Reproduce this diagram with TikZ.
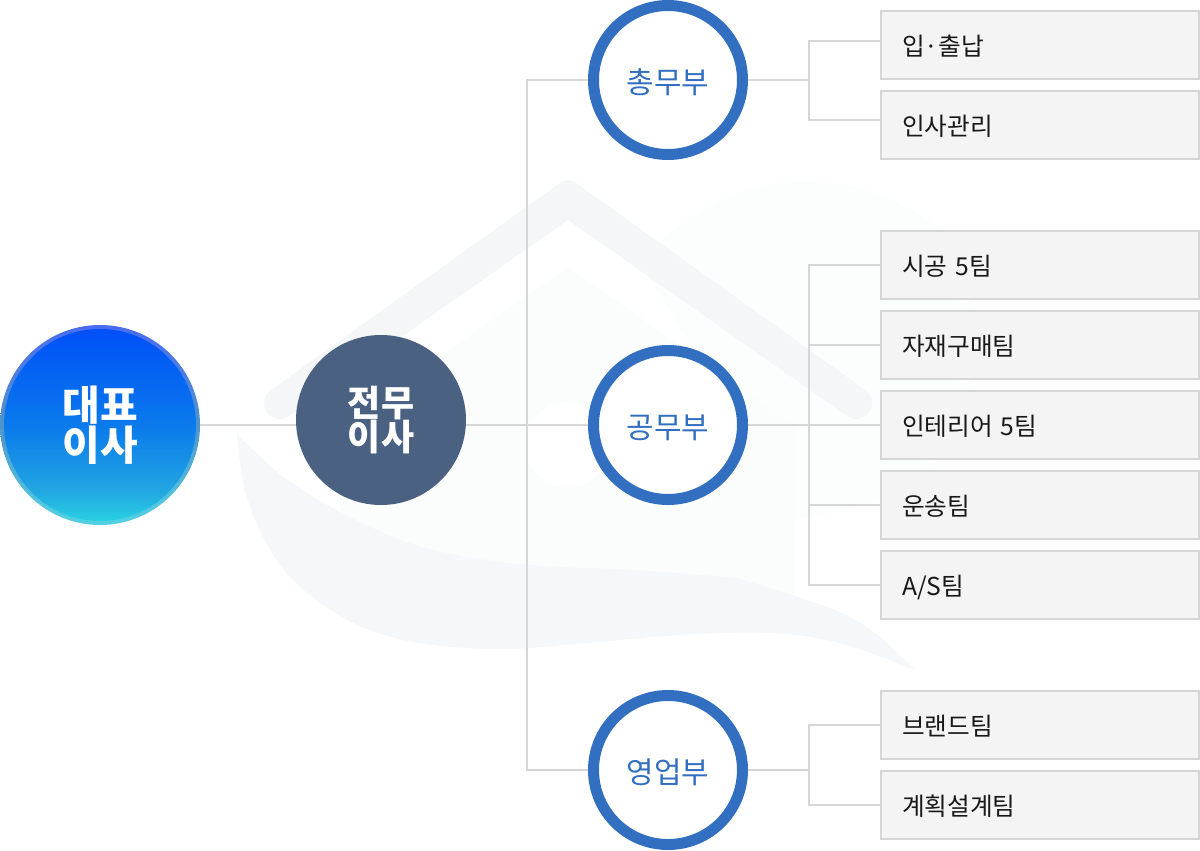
\documentclass[tikz,border=0pt]{standalone}
\usepackage{fontspec}
\setmainfont{Noto Sans CJK KR}
\usetikzlibrary{calc}
\definecolor{linec}{HTML}{D6D6D6}
\definecolor{boxf}{HTML}{F4F4F4}
\definecolor{deptc}{HTML}{326FC0}
\definecolor{execc}{HTML}{4A6182}
\definecolor{wmA}{HTML}{F5F6F8}
\definecolor{wmB}{HTML}{F5F8FA}
\definecolor{wmC}{HTML}{FBFCFC}
\definecolor{wmD}{HTML}{FCFDFD}
\definecolor{ci1}{HTML}{0050F8}
\definecolor{ci2}{HTML}{0A7AEC}
\definecolor{ci3}{HTML}{22A6E2}
\definecolor{ci4}{HTML}{28D0E2}
\definecolor{co1}{HTML}{4A6CF0}
\definecolor{co2}{HTML}{4F94CC}
\definecolor{co3}{HTML}{52D2E4}
\pgfdeclareverticalshading{ceoin}{100bp}{color(0bp)=(ci4);color(25bp)=(ci4);color(33bp)=(ci3);color(50bp)=(ci2);color(75bp)=(ci1);color(100bp)=(ci1)}
\pgfdeclareverticalshading{ceoout}{100bp}{color(0bp)=(co3);color(25bp)=(co3);color(50bp)=(co2);color(75bp)=(co1);color(100bp)=(co1)}
\tikzset{
  conn/.style={draw=linec,line width=1.5pt},
  dept/.style={circle,draw=deptc,fill=white,line width=8.25pt,minimum size=111.75pt,inner sep=0pt,text=deptc,text height=22.7pt,text depth=2.7pt,font=\fontsize{22.4pt}{24pt}\selectfont},
  team/.style={rectangle,draw=linec,fill=boxf,line width=1.5pt,minimum height=51pt,inner xsep=15.75pt,inner ysep=0pt,text width=207pt,align=left,text=black!90,text height=17.8pt,text depth=2.2pt,font=\fontsize{18.5pt}{21pt}\selectfont}
}
\begin{document}
\begin{tikzpicture}[x=0.75pt,y=-0.75pt]
\useasboundingbox (0,0) rectangle (1200,850);
% watermark
\fill[wmD] (640,262) .. controls (690,205) and (750,180) .. (805,181) .. controls (860,182) and (900,200) .. (935,225) .. controls (990,290) and (985,400) .. (935,465) .. controls (900,500) and (850,510) .. (795,520) -- cycle;
\fill[wmC] (568,267) -- (795,425) -- (795,600) -- (340,600) -- (340,425) -- cycle;
\fill[white] (567,445) circle (42);
\fill[wmA] (271,390) [rounded corners=7pt] -- (568,177) -- (865,390) [sharp corners] -- (847,416) -- (568,220) -- (289,416) -- cycle;
\fill[wmA] (280,403) circle (16);
\fill[wmA] (856,403) circle (16);
\fill[wmB] plot[smooth,tension=0.6] coordinates {(237,434) (289,481) (358,521) (426,548) (518,564) (633,570) (725,577) (750,582) (816,603) (850,617) (880,637) (915,670)}
  -- plot[smooth,tension=0.6] coordinates {(915,670) (839,643) (770,633) (679,635) (587,643) (495,649) (403,640) (335,613) (280,565) (247,498) (237,434)} -- cycle;
% nodes
\node[circle,minimum size=150pt,inner sep=0pt,shade,shading=ceoout] (ceoring) at (100,425) {};
\node[circle,minimum size=144pt,inner sep=0pt,shade,shading=ceoin,text=white,align=center,font=\fontsize{30.7pt}{30pt}\selectfont\bfseries] (ceo) at (100,425) {대표\\이사};
\node[dept] (d1) at (668,80) {총무부};
\node[dept] (d2) at (668,425) {공무부};
\node[dept] (d3) at (668,770) {영업부};
\node[team] (t1) at (1040,45) {입·출납};
\node[team] (t2) at (1040,125) {인사관리};
\node[team] (t3) at (1040,265) {시공 5팀};
\node[team] (t4) at (1040,345) {자재구매팀};
\node[team] (t5) at (1040,425) {인테리어 5팀};
\node[team] (t6) at (1040,505) {운송팀};
\node[team] (t7) at (1040,585) {A/S팀};
\node[team] (t8) at (1040,725) {브랜드팀};
\node[team] (t9) at (1040,805) {계획설계팀};
\coordinate (tr) at (527,425);
\coordinate (j1) at (809,80);
\coordinate (j2) at (809,425);
\coordinate (j3) at (809,770);
% connectors
\draw[conn] (d1.west) -| (tr) |- (d3.west);
\draw[conn] (ceoring.east) -- (d2.west);
\draw[conn] (d1.east) -- (j1);
\draw[conn] (d2.east) -- (t5.west);
\draw[conn] (d3.east) -- (j3);
\draw[conn] ([yshift=3pt]t1.west) -| (j1) |- ([yshift=3.75pt]t2.west);
\draw[conn] (t3.west) -| (j2) |- (t7.west);
\draw[conn] (t4.west) -- (t4.west -| j2);
\draw[conn] (t6.west) -- (t6.west -| j2);
\draw[conn] (t8.west) -| (j3) |- (t9.west);
\node[circle,fill=execc,minimum size=127.5pt,inner sep=0pt,text=white,align=center,font=\fontsize{27pt}{25.5pt}\selectfont\bfseries] (exec) at (381,420) {전무\\이사};
\end{tikzpicture}
\end{document}
